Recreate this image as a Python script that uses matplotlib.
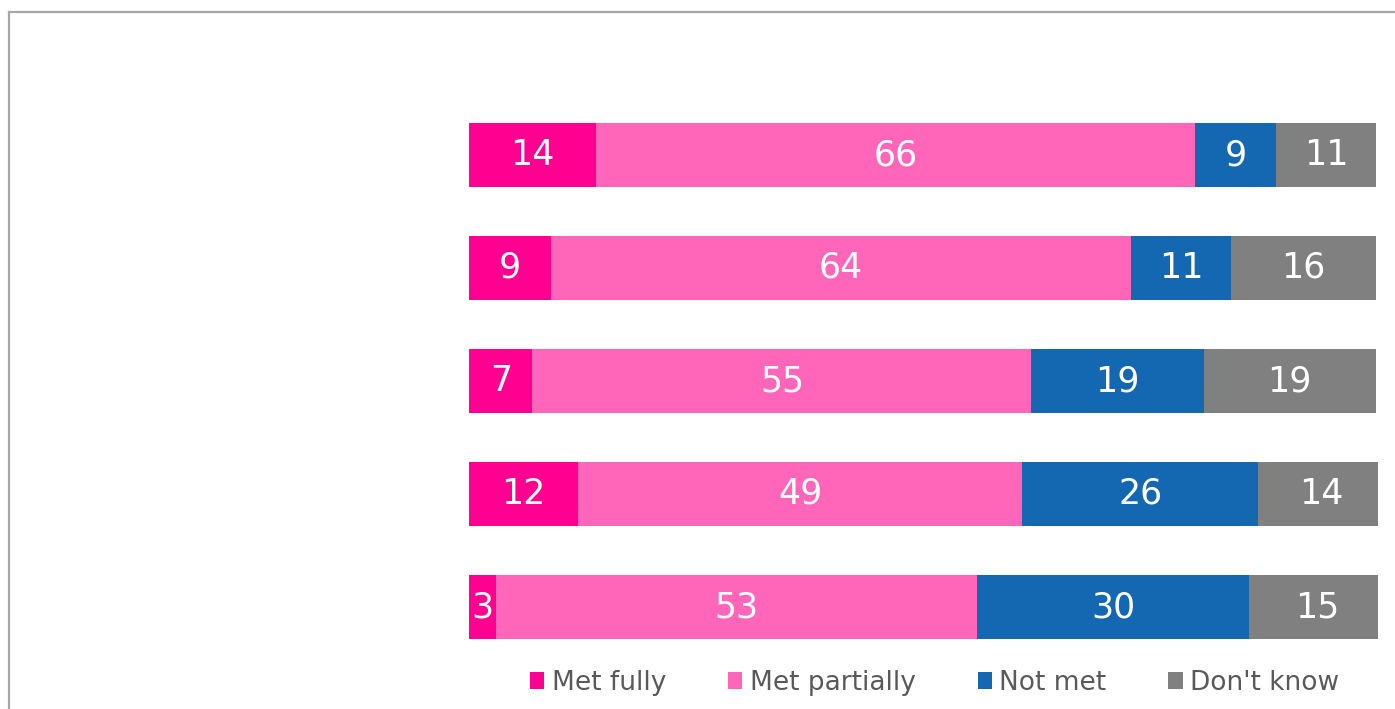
import matplotlib.pyplot as plt
from matplotlib.patches import Patch
from matplotlib.lines import Line2D

series = ['Met fully', 'Met partially', 'Not met', "Don't know"]
colors = ['#FF0090', '#FF66BA', '#1467B1', '#808080']

met_fully = [14, 9, 7, 12, 3]
met_partially = [66, 64, 55, 49, 53]
not_met = [9, 11, 19, 26, 30]
dont_know = [11, 16, 19, 14, 15]
rows = [0, 1, 2, 3, 4]

W, H = 1395, 709
fig = plt.figure(figsize=(W / 100, H / 100), dpi=100)

# plotting area: 0..100 spans 907 px, the area runs a little past 100
ax = fig.add_axes([469 / W, 1 - 663.5 / H, 909 / W, 565 / H])
ax.set_xlim(0, 100 * 909 / 907)
ax.set_ylim(4.5, -0.5)
ax.axis('off')

left = [0] * len(rows)
for name, vals, col in zip(series, [met_fully, met_partially, not_met, dont_know], colors):
    ax.barh(rows, vals, left=left, height=0.566, color=col, edgecolor='none')
    for r, l, v in zip(rows, left, vals):
        ax.text(l + v / 2, r, str(v), ha='center', va='center',
                color='white', fontsize=25, family='DejaVu Sans')
    left = [a + b for a, b in zip(left, vals)]

# chart frame, only its top and left edges fall inside the image
fig.add_artist(Line2D([8.5 / W, 8.5 / W], [0, 1 - 11.5 / H], color='#A6A6A6', lw=1.6))
fig.add_artist(Line2D([8.5 / W, 1], [1 - 11.5 / H, 1 - 11.5 / H], color='#A6A6A6', lw=1.6))

handles = [Patch(facecolor=c, edgecolor='none', label=s) for s, c in zip(series, colors)]
fig.legend(handles=handles, loc='center', bbox_to_anchor=(934.5 / W, 1 - 683 / H),
           ncol=4, frameon=False, fontsize=19, handlelength=0.55, handleheight=0.6,
           handletextpad=0.27, columnspacing=2.35, labelcolor='#595959')

fig.savefig('out.png', dpi=100)
